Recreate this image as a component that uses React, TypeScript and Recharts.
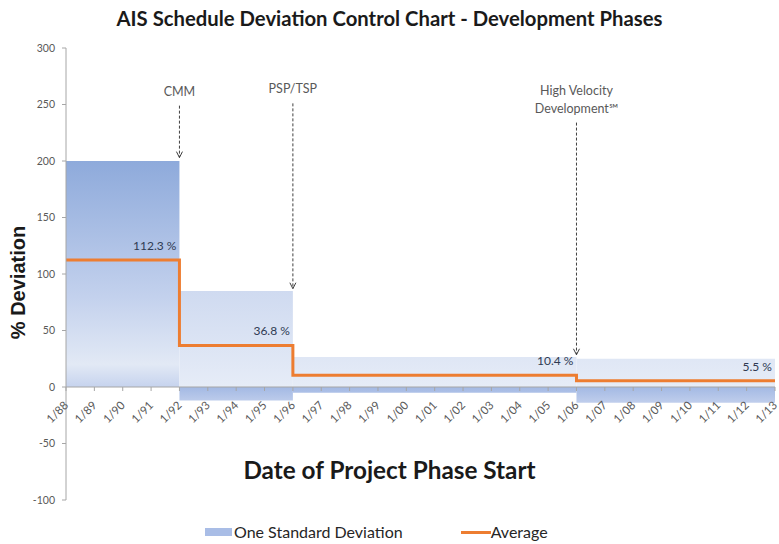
import { ComposedChart, Area, Line, XAxis, YAxis, ReferenceLine, ReferenceDot } from 'recharts'

const categories = [
  '1/88', '1/89', '1/90', '1/91', '1/92', '1/93', '1/94', '1/95', '1/96', '1/97', '1/98', '1/99', '1/00',
  '1/01', '1/02', '1/03', '1/04', '1/05', '1/06', '1/07', '1/08', '1/09', '1/10', '1/11', '1/12', '1/13',
]
const phaseStart = ['1/88', '1/92', '1/96', '1/06']
const phaseEnd = ['1/92', '1/96', '1/06', '1/13']
const phaseAverage = [112.3, 36.8, 10.4, 5.5]
const sdHigh = [200, 85, 26.5, 25]
const sdLow = [0, -12, -5, -14]
const yTicks = [-100, -50, 0, 50, 100, 150, 200, 250, 300]

// phase change markers: where the arrow points, arrow top / tip values
const markerAt = ['1/92', '1/96', '1/06']
const markerText = [['CMM'], ['PSP/TSP'], ['High Velocity', 'Development\u2120']]
const markerTop = [249, 251, 234]
const markerTip = [203, 87, 28.5]

const W = 779
const H = 544
const TOP = 48
const BOTTOM = 44
const PLOT_H = H - TOP - BOTTOM
const Y0 = TOP + PLOT_H * 300 / 400
const Z = (Y0 - TOP) / PLOT_H

const font = 'Lato, "Open Sans", sans-serif'

// build rows for recharts
const data = categories.map((name, i) => {
  const row: Record<string, any> = { name }
  phaseStart.forEach((s, p) => {
    const a = categories.indexOf(s)
    const b = categories.indexOf(phaseEnd[p])
    if (i >= a && i <= b) row['sd' + p] = [sdLow[p], sdHigh[p]]
    if (i >= a && (i < b || (p === phaseStart.length - 1 && i === b))) row.avg = phaseAverage[p]
  })
  return row
})

const XTick = (props: any) => {
  const { x, payload } = props
  return (
    <g>
      <line x1={x} y1={Y0} x2={x} y2={Y0 + 4} stroke="#a6a6a6" />
      <text
        x={x + 3}
        y={Y0 + 19}
        transform={`rotate(-45 ${x + 3} ${Y0 + 19})`}
        textAnchor="end"
        fontSize={11.5}
        fill="#595959"
        fontFamily={font}
      >
        {payload.value}
      </text>
    </g>
  )
}

const MarkerArrow = (props: any) => {
  const { x1, y1, y2, lines } = props
  const top = Math.min(y1, y2)
  const tip = Math.max(y1, y2)
  const x = x1
  return (
    <g>
      <line x1={x} y1={top} x2={x} y2={tip} stroke="#404040" strokeDasharray="3 2" />
      <polyline points={`${x - 3},${tip - 6} ${x},${tip} ${x + 3},${tip - 6}`} fill="none" stroke="#404040" />
      {lines.map((t: string, k: number) => (
        <text
          key={k}
          x={x}
          y={top - 10 - (lines.length - 1 - k) * 18}
          textAnchor="middle"
          fontSize={12.5}
          fill="#595959"
          fontFamily={font}
        >
          {t}
        </text>
      ))}
    </g>
  )
}

export default function App() {
  return (
    <div style={{ position: 'absolute', left: 0, top: 0, width: W, height: H, overflow: 'hidden', background: '#fff', fontFamily: font }}>
      <div style={{ position: 'absolute', top: 6, left: 0, width: W, textAlign: 'center', fontSize: 20.3, fontWeight: 700, color: '#1a1a1a' }}>
        AIS Schedule Deviation Control Chart - Development Phases
      </div>
      <ComposedChart width={W} height={H} data={data} margin={{ top: TOP, right: 4, bottom: BOTTOM - 1, left: 0 }}>
        <defs>
          <linearGradient id="gTop0" x1="0" y1="0" x2="0" y2="1">
            <stop offset="0%" stopColor="#8eaadb" />
            <stop offset="60%" stopColor="#c3d1ed" />
            <stop offset="90%" stopColor="#e2e9f5" />
            <stop offset="100%" stopColor="#c6d3ee" />
          </linearGradient>
          <linearGradient id="gBand" gradientUnits="userSpaceOnUse" x1="0" y1={TOP} x2="0" y2={TOP + PLOT_H}>
            <stop offset={0.5} stopColor="#cbd7ef" />
            <stop offset={Z} stopColor="#e6ecf7" />
            <stop offset={Z} stopColor="#a3b9e4" />
            <stop offset={Z + 0.035} stopColor="#c0ceec" />
          </linearGradient>
        </defs>
        <XAxis
          dataKey="name"
          scale="point"
          padding={{ left: 0, right: 0 }}
          interval={0}
          axisLine={false}
          tickLine={false}
          height={1}
          tick={<XTick />}
        />
        <YAxis
          type="number"
          domain={[-100, 300]}
          ticks={yTicks}
          width={66}
          axisLine={{ stroke: '#a6a6a6' }}
          tickLine={{ stroke: '#a6a6a6' }}
          tickSize={4}
          tickMargin={7}
          tick={{ fontSize: 10.5, fill: '#595959', fontFamily: font }}
        />
        {phaseStart.map((_, p) => (
          <Area
            key={'sd' + p}
            dataKey={'sd' + p}
            type="linear"
            stroke="none"
            fill={p === 0 ? 'url(#gTop0)' : 'url(#gBand)'}
            fillOpacity={1}
            isAnimationActive={false}
            activeDot={false}
          />
        ))}
        <ReferenceLine y={0} stroke="#a6a6a6" />
        <Line
          dataKey="avg"
          type="stepAfter"
          stroke="#ed7d31"
          strokeWidth={3}
          dot={false}
          isAnimationActive={false}
        />
        {phaseAverage.map((v, p) => (
          <ReferenceDot
            key={'lbl' + p}
            x={phaseEnd[p]}
            y={v}
            r={0}
            shape={(s: any) => (
              <text x={s.cx - 3} y={s.cy - 10} textAnchor="end" fontSize={12} fill="#2f3a52" fontFamily={font}>
                {v} %
              </text>
            )}
          />
        ))}
        {markerAt.map((c, m) => (
          <ReferenceLine
            key={'mk' + m}
            segment={[{ x: c, y: markerTop[m] }, { x: c, y: markerTip[m] }]}
            shape={(s: any) => <MarkerArrow {...s} lines={markerText[m]} />}
          />
        ))}
      </ComposedChart>
      <div
        style={{
          position: 'absolute', left: 18 - 70, top: 283 - 12, width: 140, textAlign: 'center',
          transform: 'rotate(-90deg)', fontFamily: '"Liberation Sans", Arial, sans-serif', fontWeight: 700, fontSize: 20, color: '#1a1a1a',
        }}
      >
        % Deviation
      </div>
      <div style={{ position: 'absolute', top: 455, left: 0, width: W, textAlign: 'center', fontSize: 24.3, fontWeight: 700, color: '#1a1a1a' }}>
        Date of Project Phase Start
      </div>
      <div style={{ position: 'absolute', top: 522, left: 205, display: 'flex', alignItems: 'center', fontSize: 16, lineHeight: '20px', color: '#262626' }}>
        <span style={{ display: 'inline-block', width: 27, height: 8, background: '#a9bde6', marginRight: 2 }} />
        <span>One Standard Deviation</span>
        <span style={{ display: 'inline-block', width: 30, height: 3, background: '#ed7d31', marginLeft: 58 }} />
        <span>Average</span>
      </div>
    </div>
  )
}
